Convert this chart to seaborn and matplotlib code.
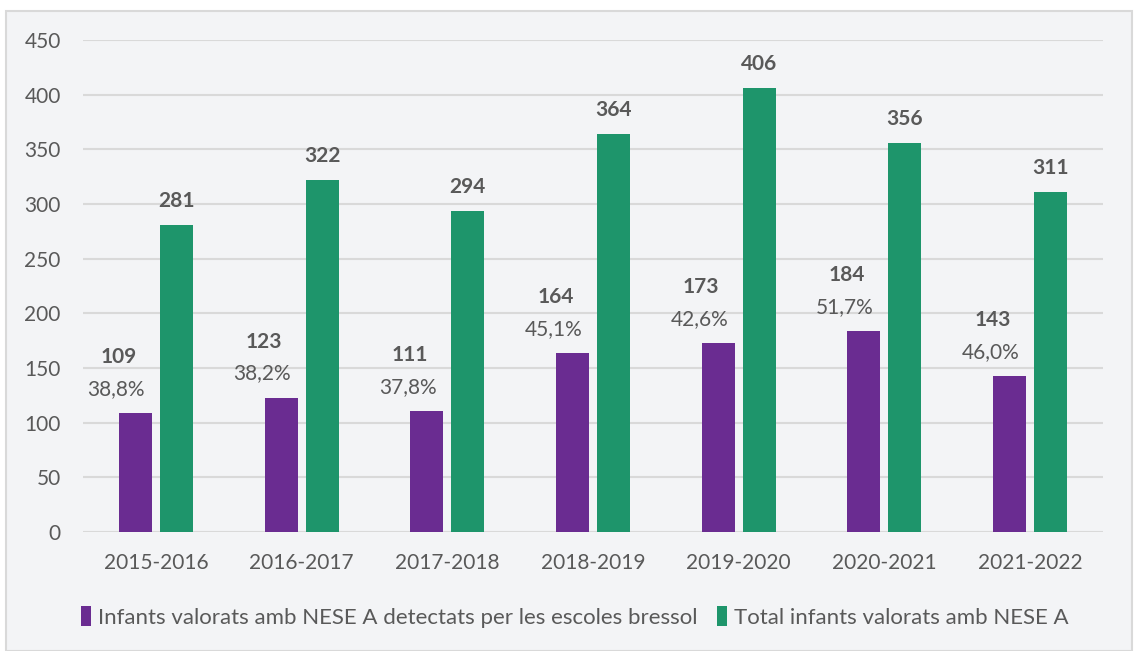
import matplotlib
matplotlib.use("Agg")
import matplotlib.pyplot as plt
import seaborn as sns
import pandas as pd
from matplotlib.patches import Rectangle

# dades
cursos = ['2015-2016', '2016-2017', '2017-2018', '2018-2019',
          '2019-2020', '2020-2021', '2021-2022']
detectats = [109, 123, 111, 164, 173, 184, 143]
total = [281, 322, 294, 364, 406, 356, 311]
percentatges = ['38,8%', '38,2%', '37,8%', '45,1%', '42,6%', '51,7%', '46,0%']

serie_det = 'Infants valorats amb NESE A detectats per les escoles bressol'
serie_tot = 'Total infants valorats amb NESE A'

df = pd.DataFrame({
    'curs': cursos * 2,
    'valor': detectats + total,
    'serie': [serie_det] * len(cursos) + [serie_tot] * len(cursos),
})

sns.set_theme(style='white')
plt.rcParams['font.family'] = ['Lato', 'DejaVu Sans']

text_col = '#595959'
colors = {serie_det: '#6a2c91', serie_tot: '#1e956b'}

fig = plt.figure(figsize=(11.34, 6.51), dpi=100, facecolor='white')
# caixa de fons
fig.patches.append(Rectangle((6 / 1134, 0), 1 - 8 / 1134, 1 - 11 / 651,
                             transform=fig.transFigure, facecolor='#f3f4f6',
                             edgecolor='#d9d9d9', linewidth=1.5, zorder=-10))

ax = fig.add_axes([83 / 1134, 1 - 532 / 651, 1020 / 1134, 492 / 651])
ax.set_facecolor('none')

sns.barplot(data=df, x='curs', y='valor', hue='serie', order=cursos,
            hue_order=[serie_det, serie_tot], palette=colors, saturation=1,
            width=0.563, gap=0.195, linewidth=0, ax=ax, legend=True, zorder=3)

ax.set_ylim(0, 450)
ax.set_yticks(range(0, 451, 50))
ax.yaxis.grid(True, color='#d9d9d9', linewidth=1.5, zorder=0)
ax.set_axisbelow(True)
for s in ax.spines.values():
    s.set_visible(False)
ax.tick_params(axis='both', length=0, labelsize=15, labelcolor=text_col)
ax.tick_params(axis='x', pad=15)
ax.tick_params(axis='y', pad=16)
ax.set_xlabel('')
ax.set_ylabel('')

# etiquetes
bars_det = ax.containers[0]
bars_tot = ax.containers[1]
for bar, v, p in zip(bars_det, detectats, percentatges):
    x = bar.get_x() + bar.get_width() / 2
    ax.annotate(p, (x, v), xytext=(-19, 24), textcoords='offset pixels',
                ha='center', va='center', fontsize=15, color=text_col)
    ax.annotate(str(v), (x, v), xytext=(-17, 56), textcoords='offset pixels',
                ha='center', va='center', fontsize=15, fontweight='bold',
                color=text_col)
for bar, v in zip(bars_tot, total):
    x = bar.get_x() + bar.get_width() / 2
    ax.annotate(str(v), (x, v), xytext=(0, 24), textcoords='offset pixels',
                ha='center', va='center', fontsize=15, fontweight='bold',
                color=text_col)

leg = ax.get_legend()
handles = leg.legend_handles
leg.remove()
fig.legend(handles, [serie_det, serie_tot], loc='center',
           bbox_to_anchor=(0.507, 1 - 617 / 651), ncol=2, frameon=False,
           fontsize=16, labelcolor=text_col, handlelength=0.45,
           handleheight=1.0, handletextpad=0.3, columnspacing=0.9)

fig.savefig('out.png', dpi=100, facecolor='white')
